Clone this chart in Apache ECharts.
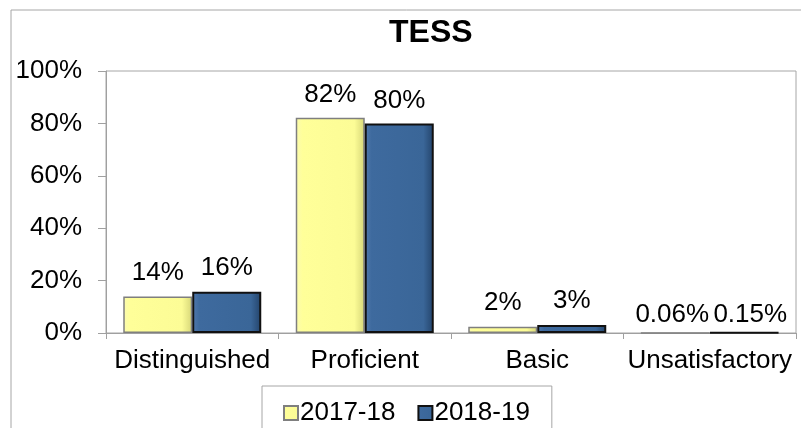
<!DOCTYPE html>
<html>
<head>
<meta charset="utf-8">
<script src="https://cdn.jsdelivr.net/npm/echarts@6/dist/echarts.min.js"></script>
<style>html,body{margin:0;padding:0;background:#fff;}#c{width:801px;height:428px;}</style>
</head>
<body>
<div id="c"></div>
<script>
var categories = ['Distinguished', 'Proficient', 'Basic', 'Unsatisfactory'];
var series1718 = [0.139, 0.822, 0.024, 0.0006];
var series1819 = [0.157, 0.80, 0.031, 0.0015];
var labelDistance = [11, 10, 11, 4];
var yTicks = [0, 0.2, 0.4, 0.6, 0.8, 1.0];

var FONT = '"Liberation Sans", Arial, sans-serif';
var FS = 26;
function pct(v) { return v >= 0.01 ? Math.round(v * 100) + '%' : (v * 100).toFixed(2) + '%'; }
function items(arr, shift) {
  return arr.map(function (v, i) {
    return { value: v, label: { distance: labelDistance[i], offset: [i === 3 ? shift : 0, 0] } };
  });
}
var yellow = new echarts.graphic.LinearGradient(0, 0, 1, 0, [
  { offset: 0, color: '#fbfbb0' }, { offset: 0.1, color: '#ffff99' },
  { offset: 0.85, color: '#fcfc96' }, { offset: 1, color: '#d6d678' }]);
var blue = new echarts.graphic.LinearGradient(0, 0, 1, 0, [
  { offset: 0, color: '#5279ad' }, { offset: 0.1, color: '#3e6a9e' },
  { offset: 0.85, color: '#3a6698' }, { offset: 1, color: '#23436a' }]);

var chart = echarts.init(document.getElementById('c'));
chart.setOption({
  animation: false,
  title: {
    text: 'TESS', left: 389, top: 17, padding: 0,
    textStyle: { fontFamily: FONT, fontSize: 32, fontWeight: 'bold', color: '#000' }
  },
  graphic: [{
    type: 'rect', shape: { x: 11, y: 10, width: 800, height: 440 },
    style: { fill: 'none', stroke: '#a6a6a6', lineWidth: 1 }, z: -1
  }],
  legend: {
    left: 262, top: 386,
    padding: [14, 22, 30, 21],
    borderColor: '#a6a6a6', borderWidth: 1,
    icon: 'rect',
    itemWidth: 14, itemHeight: 14, itemGap: 22,
    textStyle: { fontFamily: FONT, fontSize: FS, color: '#000', padding: [0, 0, 0, -3] },
    data: ['2017-18', '2018-19']
  },
  grid: {
    left: 106, right: 5, top: 71, bottom: 95,
    show: true, borderColor: '#a6a6a6', borderWidth: 1
  },
  xAxis: {
    type: 'category', data: categories,
    axisLine: { lineStyle: { color: '#a0a0a0' } },
    axisTick: { show: true, length: 6, lineStyle: { color: '#a0a0a0' } },
    axisLabel: { fontFamily: FONT, fontSize: FS, color: '#000', margin: 15, interval: 0 }
  },
  yAxis: {
    type: 'value', min: yTicks[0], max: yTicks[yTicks.length - 1], interval: 0.2,
    axisLine: { show: true, lineStyle: { color: '#a0a0a0' } },
    axisTick: { show: true, length: 8, lineStyle: { color: '#a0a0a0' } },
    splitLine: { show: false },
    axisLabel: { fontFamily: FONT, fontSize: FS, color: '#000', margin: 24,
      formatter: function (v) { return Math.round(v * 100) + '%'; } }
  },
  series: [{
    name: '2017-18', type: 'bar', data: items(series1718, -3),
    barCategoryGap: '20%', barGap: '0%',
    itemStyle: { color: yellow, borderColor: '#7f7f7f', borderWidth: 1.5 },
    label: { show: true, position: 'top', fontFamily: FONT, fontSize: FS, color: '#000',
      formatter: function (p) { return pct(p.value); } }
  }, {
    name: '2018-19', type: 'bar', data: items(series1819, 6),
    barCategoryGap: '20%', barGap: '0%',
    itemStyle: { color: blue, borderColor: '#111', borderWidth: 2 },
    label: { show: true, position: 'top', fontFamily: FONT, fontSize: FS, color: '#000',
      formatter: function (p) { return pct(p.value); } }
  }]
});
</script>
</body>
</html>
